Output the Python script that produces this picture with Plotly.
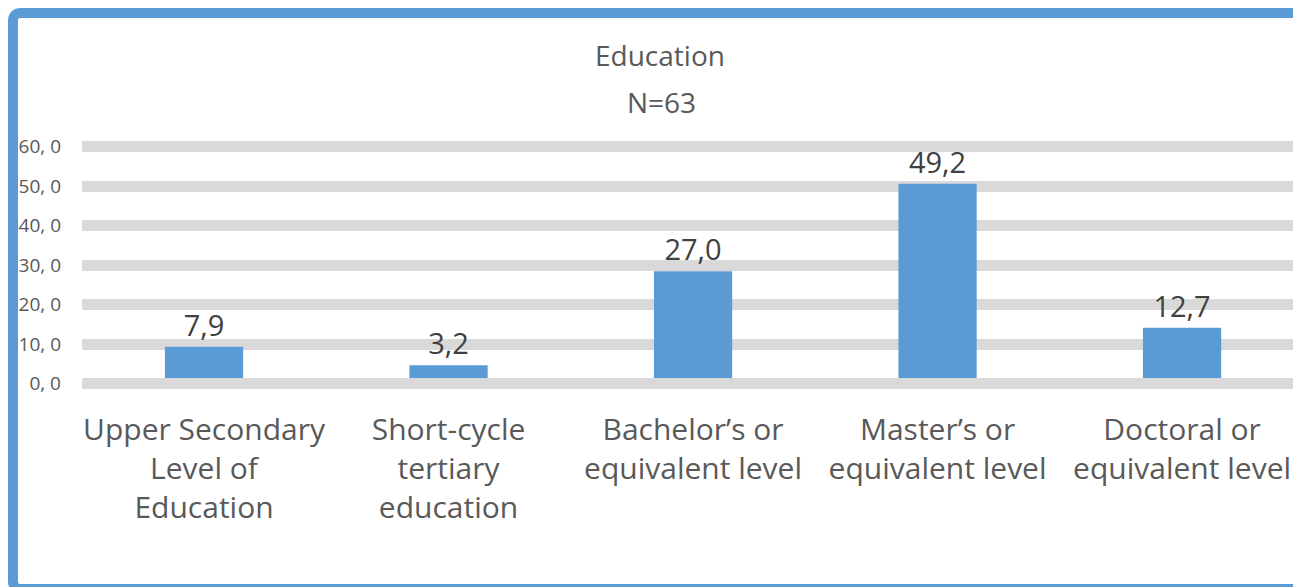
import plotly.graph_objects as go

# data
categories = ["Upper Secondary Level of Education", "Short-cycle tertiary education",
              "Bachelor's or equivalent level", "Master's or equivalent level",
              "Doctoral or equivalent level"]
tick_labels = ["Upper Secondary<br>Level of<br>Education", "Short-cycle<br>tertiary<br>education",
               "Bachelor’s or<br>equivalent level", "Master’s or<br>equivalent level",
               "Doctoral or<br>equivalent level"]
percentages = [7.9, 3.2, 27.0, 49.2, 12.7]
bar_labels = ["7,9", "3,2", "27,0", "49,2", "12,7"]
y_ticks = [0, 10, 20, 30, 40, 50, 60]
y_tick_labels = ["0, 0", "10, 0", "20, 0", "30, 0", "40, 0", "50, 0", "60, 0"]

BLUE = "#5B9BD5"
GRID = "#D9D9D9"
TEXT = "#595959"
FONT = "Open Sans"

W, H = 1301, 587
# page has an 8px body margin, so figure coords are screen coords minus 8
OFF = 8
L, R, T, B = 82 - OFF, 1297 - OFF, 130 - OFF, 395 - OFF


def px_x(p):
    return (p - OFF - L) / (R - L)


def px_y(p):
    return (B - (p - OFF)) / (B - T)


fig = go.Figure()
# empty trace so the gridline axis gets drawn
fig.add_trace(go.Scatter(x=[], y=[], mode="markers", hoverinfo="skip"))
fig.add_trace(go.Bar(
    x=categories, y=percentages, text=bar_labels,
    textposition="outside", constraintext="none", cliponaxis=False,
    textfont=dict(family=FONT, size=29, color="#404040"),
    marker=dict(color=BLUE, line=dict(width=0)),
    width=0.32, yaxis="y2", hoverinfo="skip",
))

# rounded border around the chart
x0, x1, y0, y1 = px_x(13), px_x(1308), px_y(589), px_y(13)
rx, ry = 8 / (R - L), 8 / (B - T)
border = (f"M {x0},{y0 + ry} L {x0},{y1 - ry} Q {x0},{y1} {x0 + rx},{y1} "
          f"L {x1 - rx},{y1} Q {x1},{y1} {x1},{y1 - ry} L {x1},{y0 + ry} "
          f"Q {x1},{y0} {x1 - rx},{y0} L {x0 + rx},{y0} Q {x0},{y0} {x0},{y0 + ry} Z")
fig.add_shape(type="path", path=border, xref="paper", yref="paper",
              line=dict(color=BLUE, width=10), layer="above")

fig.add_annotation(text="Education", x=px_x(660), y=px_y(55), xref="paper", yref="paper",
                   xanchor="center", yanchor="middle", showarrow=False,
                   font=dict(family=FONT, size=28, color=TEXT))
fig.add_annotation(text="N=63", x=px_x(661), y=px_y(102), xref="paper", yref="paper",
                   xanchor="center", yanchor="middle", showarrow=False,
                   font=dict(family=FONT, size=28, color=TEXT))

fig.update_layout(
    width=W, height=H,
    margin=dict(l=L, r=W - R, t=T, b=H - B, autoexpand=False),
    paper_bgcolor="white", plot_bgcolor="white",
    showlegend=False,
    font=dict(family=FONT, color=TEXT),
    xaxis=dict(
        type="category", range=[-0.499, 4.47],
        categoryorder="array", categoryarray=categories,
        tickvals=categories, ticktext=tick_labels,
        tickfont=dict(family=FONT, size=30, color=TEXT),
        showgrid=False, zeroline=False, showline=False, ticks="",
        ticklabelstandoff=14, automargin=False,
    ),
    yaxis=dict(
        range=[-2.91, 64.18], tickvals=y_ticks, ticktext=y_tick_labels,
        tickfont=dict(family=FONT, size=19, color=TEXT),
        showgrid=True, gridcolor=GRID, gridwidth=11,
        zeroline=False, showline=False, ticks="", ticklabelstandoff=20,
        automargin=False,
    ),
    yaxis2=dict(range=[-4.30, 62.78], overlaying="y", visible=False),
)

fig.write_html("out.html")
